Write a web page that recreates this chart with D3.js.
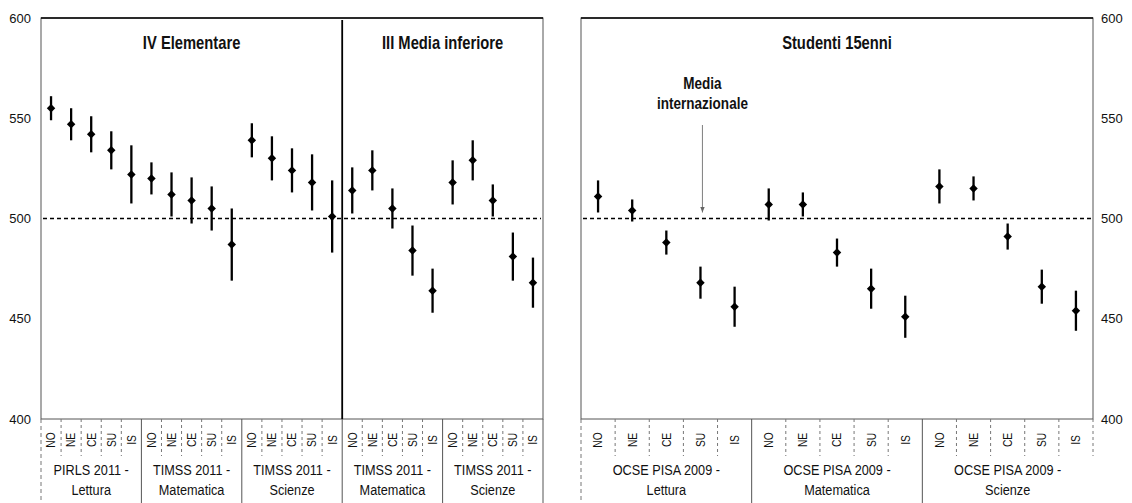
<!DOCTYPE html>
<html>
<head>
<meta charset="utf-8">
<script src="https://cdn.jsdelivr.net/npm/d3@7"></script>
<style>
  html, body { margin: 0; padding: 0; background: #fff; }
  svg { display: block; }
  text { font-family: 'Liberation Sans', Arial, sans-serif; fill: #111; }
</style>
</head>
<body>
<svg id="chart" width="1132" height="503"></svg>
<script>
// Regional means with confidence intervals (half-width), NO / NE / CE / SU / IS
const regions = ["NO", "NE", "CE", "SU", "IS"];

const leftGroups = [
  ["PIRLS 2011 -", "Lettura"],
  ["TIMSS 2011 -", "Matematica"],
  ["TIMSS 2011 -", "Scienze"],
  ["TIMSS 2011 -", "Matematica"],
  ["TIMSS 2011 -", "Scienze"]
];
const rightGroups = [
  ["OCSE PISA 2009 -", "Lettura"],
  ["OCSE PISA 2009 -", "Matematica"],
  ["OCSE PISA 2009 -", "Scienze"]
];

const leftMeans = [555, 547, 542, 534, 522,  520, 512, 509, 505, 487,  539, 530, 524, 518, 501,
                   514, 524, 505, 484, 464,  518, 529, 509, 481, 468];
const leftErrors = [6, 8, 9, 9.5, 14.5,  8, 11, 11.5, 11, 18,  8.5, 11, 11, 14, 18,
                    11.5, 10, 10, 12.5, 11,  11, 10, 8, 12, 12.5];

const rightMeans = [511, 504, 488, 468, 456,  507, 507, 483, 465, 451,  516, 515, 491, 466, 454];
const rightErrors = [8, 5.5, 6, 8, 10,  8, 6, 7, 10, 10.5,  8.5, 6, 6.5, 8.5, 10];

const yTicks = [400, 450, 500, 550, 600];
const intlMean = 500;
const leftTitles = ["IV Elementare", "III Media inferiore"];
const leftTitleSplit = 3;            // first three groups are grade 4
const rightTitle = "Studenti 15enni";
const noteLines = ["Media", "internazionale"];
const noteCategory = 3;              // arrow over the SU column of PISA Lettura

const svg = d3.select("#chart");
const plotTop = 18, plotBottom = 419, labelEnd = 503, catSepEnd = 456;
const condense = 0.82;               // narrow-face look for the labels

const y = d3.scaleLinear().domain([400, 600]).range([plotBottom, plotTop]);

// condensed text helper
function label(parent, x, yPos, str, size, opts = {}) {
  const rot = opts.rotate ? ` rotate(${opts.rotate})` : "";
  return parent.append("text")
    .attr("transform", `translate(${x},${yPos})${rot} scale(${condense},1)`)
    .attr("text-anchor", opts.anchor || "middle")
    .attr("dominant-baseline", opts.baseline || null)
    .attr("font-size", size)
    .attr("font-weight", opts.bold ? "bold" : null)
    .text(str);
}

function drawPanel(x0, x1, groups, means, errors) {
  const n = groups.length * regions.length;
  const x = d3.scaleBand().domain(d3.range(n)).range([x0, x1]).padding(0);
  const g = svg.append("g");

  // plot frame
  g.append("rect")
    .attr("x", x0).attr("y", plotTop)
    .attr("width", x1 - x0).attr("height", plotBottom - plotTop)
    .attr("fill", "none").attr("stroke", "#555").attr("stroke-width", 1);
  g.append("line")
    .attr("x1", x0).attr("x2", x1).attr("y1", plotTop).attr("y2", plotTop)
    .attr("stroke", "#000").attr("stroke-width", 1.6);

  // international mean
  g.append("line")
    .attr("x1", x0 + 2).attr("x2", x1 - 2)
    .attr("y1", y(intlMean)).attr("y2", y(intlMean))
    .attr("stroke", "#000").attr("stroke-width", 1.3)
    .attr("stroke-dasharray", "4,3");

  const data = means.map((m, i) => ({ i, m, e: errors[i] }));

  // confidence intervals
  g.selectAll("line.ci").data(data).join("line")
    .attr("class", "ci")
    .attr("x1", d => x(d.i) + x.bandwidth() / 2)
    .attr("x2", d => x(d.i) + x.bandwidth() / 2)
    .attr("y1", d => y(d.m + d.e))
    .attr("y2", d => y(d.m - d.e))
    .attr("stroke", "#000").attr("stroke-width", 2.3);

  // diamond markers
  const diamond = d3.symbol().type(d3.symbolSquare).size(36);
  g.selectAll("path.pt").data(data).join("path")
    .attr("class", "pt")
    .attr("d", diamond)
    .attr("transform", d => `translate(${x(d.i) + x.bandwidth() / 2},${y(d.m)}) rotate(45)`)
    .attr("fill", "#000");

  // category separators below the plot
  for (let i = 1; i < n; i++) {
    const isGroup = i % regions.length === 0;
    g.append("line")
      .attr("x1", x(i)).attr("x2", x(i))
      .attr("y1", plotBottom).attr("y2", isGroup ? labelEnd : catSepEnd)
      .attr("stroke", isGroup ? "#555" : "#777")
      .attr("stroke-width", 1)
      .attr("stroke-dasharray", isGroup ? null : "3,3");
  }
  g.append("line")
    .attr("x1", x0).attr("x2", x0).attr("y1", plotBottom).attr("y2", labelEnd)
    .attr("stroke", "#777").attr("stroke-width", 1).attr("stroke-dasharray", "4,3");

  // region labels
  d3.range(n).forEach(i => {
    label(g, x(i) + x.bandwidth() / 2, 440, regions[i % regions.length], 12.5,
      { rotate: -90, baseline: "central" });
  });

  // group labels
  groups.forEach((lines, gi) => {
    const cx = (x(gi * regions.length) + x(gi * regions.length + regions.length - 1) + x.bandwidth()) / 2;
    lines.forEach((t, li) => label(g, cx, 475 + li * 20, t, 15.5));
  });

  return x;
}

// Left panel: PIRLS / TIMSS 2011
const xL = drawPanel(41, 543, leftGroups, leftMeans, leftErrors);
const split = xL(leftTitleSplit * regions.length);
svg.append("line")
  .attr("x1", split).attr("x2", split).attr("y1", plotTop + 2).attr("y2", plotBottom)
  .attr("stroke", "#000").attr("stroke-width", 1.8);
svg.append("line")
  .attr("x1", 543).attr("x2", 543).attr("y1", plotBottom).attr("y2", labelEnd)
  .attr("stroke", "#555").attr("stroke-width", 1);

const titleY = 49;
label(svg, (41 + split) / 2, titleY, leftTitles[0], 18, { bold: true });
label(svg, (split + 543) / 2, titleY, leftTitles[1], 18, { bold: true });

// Right panel: OCSE PISA 2009
const xR = drawPanel(581, 1093, rightGroups, rightMeans, rightErrors);
svg.append("line")
  .attr("x1", 1093).attr("x2", 1093).attr("y1", plotBottom).attr("y2", catSepEnd)
  .attr("stroke", "#777").attr("stroke-width", 1).attr("stroke-dasharray", "3,3");
label(svg, (581 + 1093) / 2, titleY, rightTitle, 18, { bold: true });

// annotation for the international mean
const noteX = xR(noteCategory) + xR.bandwidth() / 2 + 2;
noteLines.forEach((t, i) => label(svg, noteX, 89 + i * 20, t, 16.5, { bold: true }));
svg.append("defs").append("marker")
  .attr("id", "arrowHead").attr("viewBox", "0 0 10 10")
  .attr("refX", 10).attr("refY", 5)
  .attr("markerWidth", 5).attr("markerHeight", 5)
  .attr("orient", "auto")
  .append("path").attr("d", "M0,1 L10,5 L0,9 Z").attr("fill", "#666");
svg.append("line")
  .attr("x1", noteX).attr("x2", noteX)
  .attr("y1", 125).attr("y2", y(intlMean) - 6)
  .attr("stroke", "#888").attr("stroke-width", 1.1)
  .attr("marker-end", "url(#arrowHead)");

// y axes on both outer sides
const axL = svg.append("g").attr("transform", "translate(41,0)")
  .call(d3.axisLeft(y).tickValues(yTicks).tickSize(0).tickPadding(10));
const axR = svg.append("g").attr("transform", "translate(1093,0)")
  .call(d3.axisRight(y).tickValues(yTicks).tickSize(0).tickPadding(8));
[axL, axR].forEach(ax => {
  ax.select(".domain").remove();
  ax.selectAll("text")
    .attr("font-size", 13)
    .style("font-family", "'Liberation Sans', Arial, sans-serif")
    .attr("fill", "#111");
});
</script>
</body>
</html>
